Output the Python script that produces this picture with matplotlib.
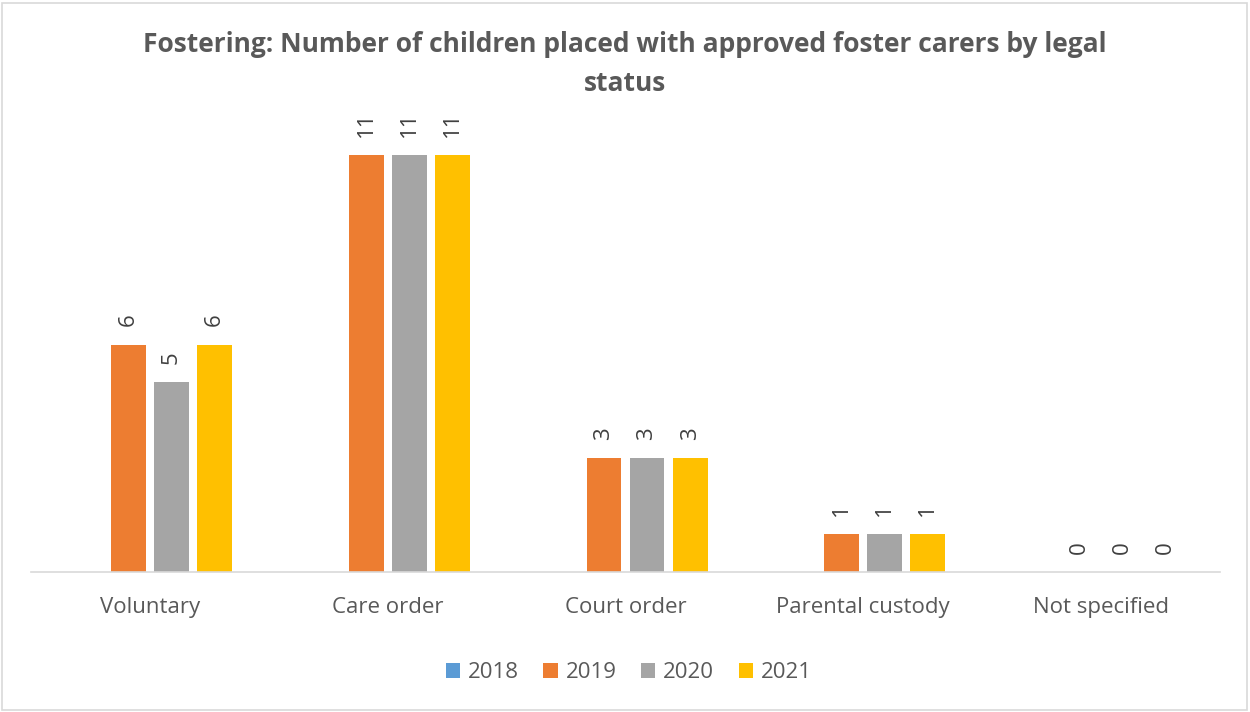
import matplotlib.pyplot as plt
import numpy as np

plt.rcParams['font.family'] = ['Open Sans', 'DejaVu Sans']

categories = ['Voluntary', 'Care order', 'Court order', 'Parental custody', 'Not specified']
years = ['2018', '2019', '2020', '2021']
vals_2018 = [np.nan, np.nan, np.nan, np.nan, np.nan]
vals_2019 = [6, 11, 3, 1, 0]
vals_2020 = [5, 11, 3, 1, 0]
vals_2021 = [6, 11, 3, 1, 0]
colors = ['#5B9BD5', '#ED7D31', '#A5A5A5', '#FFC000']

text_col = '#595959'


def main():
    fig = plt.figure(figsize=(12.5, 7.12), dpi=100)
    ax = fig.add_axes([31/1250, 1 - 572/712, (1220 - 31)/1250, (572 - 117)/712])

    series = [vals_2018, vals_2019, vals_2020, vals_2021]
    x = np.arange(len(categories))
    step = 0.181
    width = 0.147

    for j, (yr, vals) in enumerate(zip(years, series)):
        pos = x + (j - 1.5) * step
        v = np.array(vals, dtype=float)
        ax.bar(pos, np.nan_to_num(v), width, color=colors[j], label=yr)
        for p, val in zip(pos, v):
            if np.isnan(val):
                continue
            ax.annotate('%d' % val, (p, val), xytext=(0, 13), textcoords='offset points',
                        rotation=90, ha='center', va='bottom', fontsize=16, color='#404040')

    ax.set_xlim(-0.5, len(categories) - 0.5)
    ax.set_ylim(0, 12)
    ax.set_yticks([])
    ax.set_xticks(x)
    ax.set_xticklabels(categories, fontsize=16, color=text_col)
    ax.tick_params(axis='x', length=0, pad=18)
    for s in ['top', 'right', 'left']:
        ax.spines[s].set_visible(False)
    ax.spines['bottom'].set_color('#D9D9D9')
    ax.spines['bottom'].set_linewidth(1.2)

    fig.text(0.5, 1 - 64/712, 'Fostering: Number of children placed with approved foster carers by legal\nstatus',
             ha='center', va='center', fontsize=19, fontweight='bold', color=text_col, linespacing=1.55)

    leg = fig.legend(loc='center', bbox_to_anchor=(0.503, 1 - 673/712), ncol=4, frameon=False,
                     fontsize=16, handlelength=0.65, handleheight=0.65, handletextpad=0.35,
                     columnspacing=1.1)
    for t in leg.get_texts():
        t.set_color(text_col)

    border = plt.Rectangle((2/1250, 2/712), 1245/1250, 707/712, transform=fig.transFigure,
                           fill=False, edgecolor='#D9D9D9', linewidth=1.2)
    fig.patches.append(border)

    fig.savefig('out.png', dpi=100, facecolor='white')


main()
